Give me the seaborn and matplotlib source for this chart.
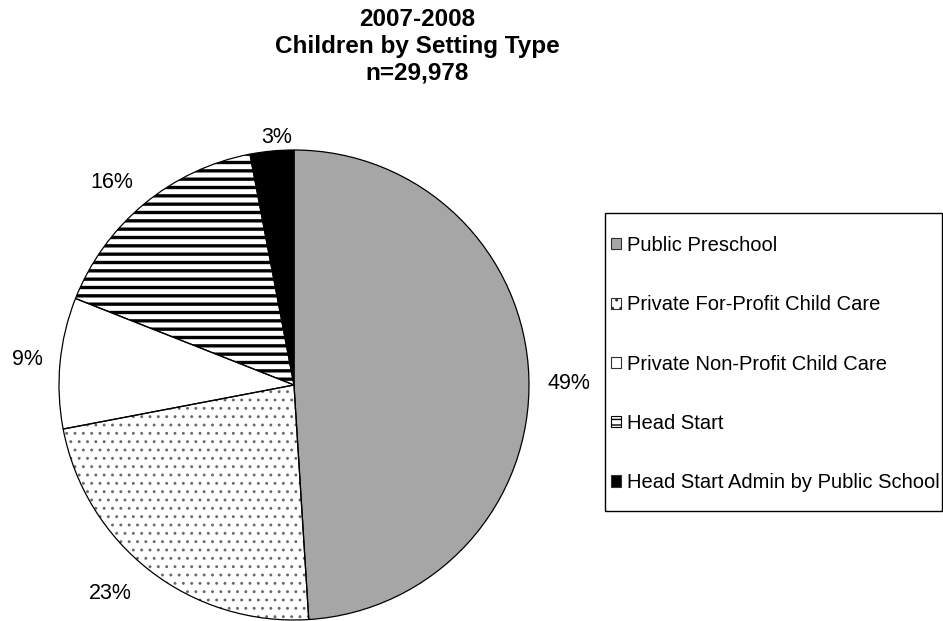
import matplotlib
matplotlib.use("Agg")
import matplotlib.pyplot as plt
from matplotlib.patches import Patch, Rectangle
import numpy as np
import pandas as pd
import seaborn as sns

# ---- data ----
categories = ["Public Preschool", "Private For-Profit Child Care",
              "Private Non-Profit Child Care", "Head Start",
              "Head Start Admin by Public School"]
percent = [49, 23, 9, 16, 3]
title_lines = ["2007-2008", "Children by Setting Type", "n=29,978"]

# ---- styles ----
face_colors = ["#A6A6A6", "white", "white", "white", "black"]
hatches = [None, "..", None, "--", None]
hatch_colors = ["#A6A6A6", "#6A6A6A", "white", "black", "black"]
hatch_widths = [1.0, 0.9, 1.0, 2.4, 1.0]
label_dist = [1.168, 1.18, 1.14, 1.16, 1.055]
label_shift_deg = [-1.5, -3.6, 0.0, 2.4, -1.5]

sns.set_theme(style="white")
plt.rcParams["font.family"] = ["Liberation Sans", "DejaVu Sans"]
plt.rcParams["text.color"] = "black"

df = pd.DataFrame({"category": categories, "percent": percent})

W, H = 943, 621
fig = plt.figure(figsize=(W / 100, H / 100), dpi=100)
fig.patch.set_facecolor("white")
cx, cy, r = 294, 385, 235
ax = fig.add_axes([(cx - r) / W, (H - cy - r) / H, 2 * r / W, 2 * r / H])

labels = [f"{p}%" for p in df["percent"]]
wedges, texts = ax.pie(df["percent"], labels=labels, startangle=90,
                       counterclock=False, labeldistance=1.1,
                       textprops=dict(fontsize=15.5, color="black"),
                       wedgeprops=dict(linewidth=0))
for w, fc, h, hc, hw in zip(wedges, face_colors, hatches, hatch_colors, hatch_widths):
    w.set_facecolor(fc)
    w.set_edgecolor(hc)
    w.set_linewidth(0)
    if h:
        w.set_hatch(h)
        if hasattr(w, "set_hatch_linewidth"):
            w.set_hatch_linewidth(hw)

# centre each label near its wedge's mid-angle
for w, t, d, s in zip(wedges, texts, label_dist, label_shift_deg):
    ang = np.deg2rad((w.theta1 + w.theta2) / 2 + s)
    t.set_position((d * np.cos(ang), d * np.sin(ang)))
    t.set_ha("center")
    t.set_va("center")

# outline layer
ax.pie(df["percent"], startangle=90, counterclock=False,
       wedgeprops=dict(facecolor="none", edgecolor="black", linewidth=0.9))
ax.set_xlim(-1, 1)
ax.set_ylim(-1, 1)
ax.set_aspect("equal")
ax.axis("off")

# title
fig.text(417 / W, 1 - 8 / H, "\n".join(title_lines), ha="center", va="top",
         fontsize=17.5, fontweight="bold", linespacing=1.22, color="black")

# legend
handles = [Patch(facecolor=fc, edgecolor="#303030", linewidth=0.8)
           for fc in face_colors]
handles[1] = Patch(facecolor="white", edgecolor="#303030", linewidth=0.8, hatch="..")
handles[3] = Patch(facecolor="white", edgecolor="black", linewidth=0.8, hatch="---")
fig.patches.append(Rectangle((605 / W, 1 - 511 / H), 337 / W, 298 / H,
                             transform=fig.transFigure, facecolor="white",
                             edgecolor="black", linewidth=1.0, zorder=0))
leg = fig.legend(handles, df["category"], loc="upper left",
                 bbox_to_anchor=(611 / W, 1 - 236 / H), frameon=False,
                 fontsize=14.5, handlelength=0.48, handleheight=0.48,
                 handletextpad=0.3, labelspacing=2.0, borderpad=0,
                 borderaxespad=0, labelcolor="black")

fig.savefig("out.png", dpi=100, facecolor="white")
